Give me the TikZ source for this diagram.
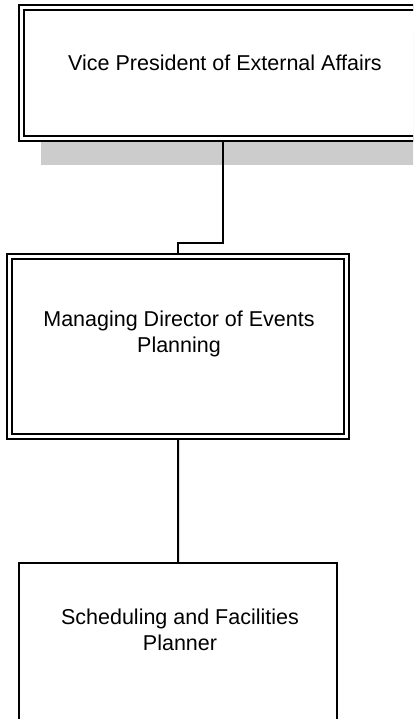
\documentclass[tikz,border=0pt]{standalone}
\usepackage{fontspec}
\setmainfont{Liberation Sans}
\usetikzlibrary{shadows}

\begin{document}
\begin{tikzpicture}[x=1pt,y=-1pt,line join=miter,
    every node/.style={font=\fontsize{21.5}{25.8}\selectfont},
    postbox/.style={draw=black,line width=2pt,fill=white,inner sep=0pt},
    twinbox/.style={postbox,double=white,double distance=3pt,outer sep=3.5pt},
    postlabel/.style={align=center,inner sep=0pt},
    link/.style={draw=black,line width=2pt}]
  \useasboundingbox (0,0) rectangle (413,719);
  \clip (0,0) rectangle (413,719);
  \node[twinbox,minimum width=404pt,minimum height=131pt,
        drop shadow={fill=black!20,opacity=1,shadow xshift=20pt,shadow yshift=-26.5pt}] (vp) at (223,73) {};
  \node[twinbox,minimum width=336.7pt,minimum height=179.7pt] (md) at (178.2,346.8) {};
  \node[postbox,minimum width=318pt,minimum height=197pt] (sf) at (178,661.5) {};
  \node[postlabel] (vptext) at (225,63) {Vice President of External Affairs};
  \node[postlabel] (mdtext) at (179,334) {Managing Director of Events\\Planning};
  \node[postlabel] (sftext) at (180,630) {Scheduling and Facilities\\Planner};
  \draw[link] (vp.south) -- ++(0,101) -| (md.north);
  \draw[link] (md.south) -- (sf.north);
\end{tikzpicture}
\end{document}
